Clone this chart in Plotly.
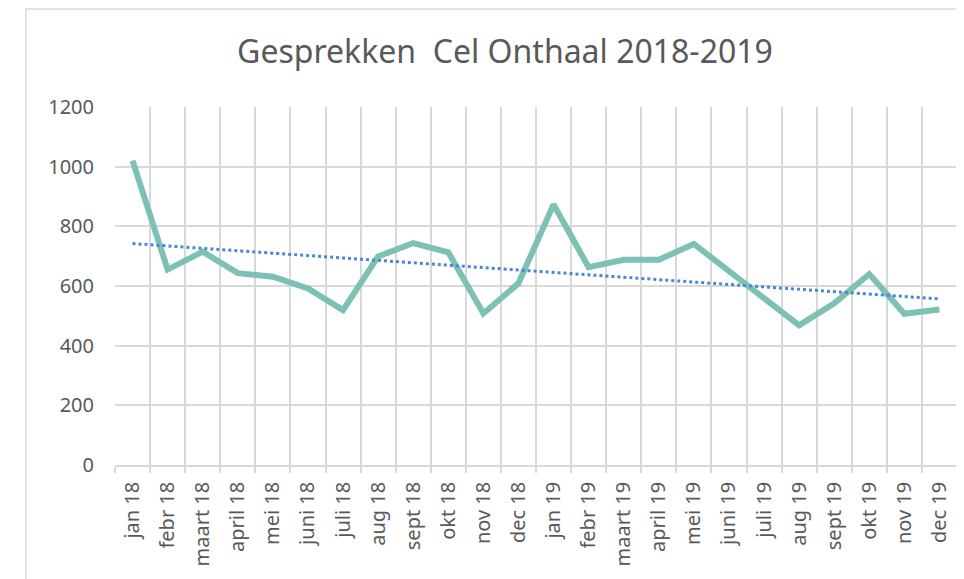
import numpy as np
import plotly.graph_objects as go

months = ["jan 18", "febr 18", "maart 18", "april 18", "mei 18", "juni 18", "juli 18", "aug 18",
          "sept 18", "okt 18", "nov 18", "dec 18", "jan 19", "febr 19", "maart 19", "april 19",
          "mei 19", "juni 19", "juli 19", "aug 19", "sept 19", "okt 19", "nov 19", "dec 19"]
gesprekken = [1020, 655, 715, 643, 631, 592, 519, 699, 744, 713, 508, 609,
              873, 663, 688, 688, 741, 650, 560, 468, 542, 640, 507, 521]
y_ticks = [0, 200, 400, 600, 800, 1000, 1200]

OFF = 8  # page body margin
W, H = 964 - OFF, 579 - OFF
L, R, T, B = 115 - OFF, 957 - OFF, 107 - OFF, 465 - OFF

idx = np.arange(len(gesprekken))
coef = np.polyfit(idx, gesprekken, 1)
trend = np.polyval(coef, idx)

fig = go.Figure()
fig.add_trace(go.Scatter(x=months, y=gesprekken, mode="lines",
                         line=dict(color="#7cc1b4", width=6), name="Gesprekken"))
fig.add_trace(go.Scatter(x=months, y=trend, mode="lines",
                         line=dict(color="#4a86d8", width=3, dash="dot"), name="Trend"))

pw, ph = R - L, B - T
fig.add_shape(type="rect", xref="paper", yref="paper",
              x0=(18 - L) / pw, x1=(W + 30 - L) / pw,
              y0=(B - (H + 30)) / ph, y1=(B - 1) / ph,
              line=dict(color="#d9d9d9", width=1.5), fillcolor="rgba(0,0,0,0)", layer="below")

font = "Noto Sans"
fig.update_layout(
    width=W, height=H,
    margin=dict(l=L, r=W - R, t=T, b=H - B),
    paper_bgcolor="white", plot_bgcolor="white",
    showlegend=False,
    title=dict(text="Gesprekken  Cel Onthaal 2018-2019", x=(505 - OFF) / W, xref="container",
               xanchor="center", y=1 - (52 - OFF) / H, yref="container", yanchor="middle",
               font=dict(family=font, size=32, color="#595959")),
    font=dict(family=font, color="#595959"),
)
fig.update_xaxes(type="category", range=[-0.5, len(months) - 0.5], tickson="boundaries",
                 showgrid=True, gridcolor="#d9d9d9", gridwidth=1.5,
                 showline=True, linecolor="#d9d9d9", linewidth=1.5,
                 ticks="outside", ticklen=6, tickcolor="#d9d9d9", tickwidth=1.5,
                 tickangle=-90, tickfont=dict(family=font, size=20, color="#595959"),
                 ticklabelstandoff=7, fixedrange=True)
fig.update_yaxes(range=[0, 1200], tickvals=y_ticks, ticktext=[str(v) for v in y_ticks],
                 showgrid=True, gridcolor="#d9d9d9", gridwidth=1.5, zeroline=False,
                 showline=False, ticks="", ticklabelstandoff=20,
                 tickfont=dict(family=font, size=20, color="#595959"), fixedrange=True)

fig.write_html("out.html")
